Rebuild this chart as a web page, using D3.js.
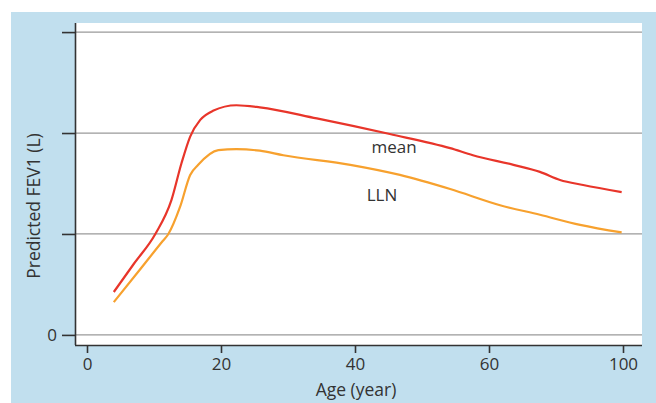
<!DOCTYPE html>
<html>
<head>
<meta charset="utf-8">
<script src="https://cdn.jsdelivr.net/npm/d3@7"></script>
<style>
  body { margin: 0; background: #fff; }
  svg { display: block; font-family: "Open Sans", "Noto Sans", sans-serif; }
</style>
</head>
<body>
<div id="chart"></div>
<script>
// Age (years) and predicted FEV1 (L)
const meanAge = [4, 7, 10.2, 12.6, 14.1, 15.4, 16.9, 18.8, 22.3, 25.8, 34.3, 45.2, 54.2, 57.6, 67.3, 75.2, 81.2, 88.1, 99.6];
const meanFev = [0.85, 1.41, 2.0, 2.67, 3.40, 3.93, 4.26, 4.44, 4.55, 4.51, 4.29, 3.98, 3.70, 3.56, 3.37, 3.23, 3.07, 2.97, 2.83];
const llnAge = [4, 8, 11.3, 12.1, 13.9, 15.4, 16.6, 19.6, 22.3, 25.8, 29.3, 39.3, 46.7, 54.2, 63.3, 75.2, 87.2, 99.6];
const llnFev = [0.65, 1.31, 1.86, 1.99, 2.54, 3.17, 3.37, 3.66, 3.68, 3.65, 3.56, 3.37, 3.17, 2.89, 2.57, 2.38, 2.18, 2.03];

const xTicks = [0, 20, 40, 60, 100];
const yTicks = [0, 2, 4, 6];
const yTickLabels = ['0', '', '', ''];

const W = 656, H = 403;
const svg = d3.select('#chart').append('svg').attr('width', W).attr('height', H);

// light blue frame
svg.append('rect').attr('x', 11).attr('y', 12).attr('width', W - 11).attr('height', H - 12).attr('fill', '#c1dfee');
// white plot panel
const pLeft = 75, pRight = 642, pTop = 23, pBottom = 345;
svg.append('rect').attr('x', pLeft).attr('y', pTop).attr('width', pRight - pLeft).attr('height', pBottom - pTop).attr('fill', '#fff');

// the original age axis is spaced evenly up to "100"
const x = d3.scaleLinear().domain([0, 60, 100]).range([87, 489, 623]);
const y = d3.scaleLinear().domain([-0.2, 6.18]).range([pBottom, pTop]);

// gridlines
svg.append('g').selectAll('line').data(yTicks).join('line')
  .attr('x1', pLeft).attr('x2', pRight)
  .attr('y1', d => y(d)).attr('y2', d => y(d))
  .attr('stroke', '#9a9a9a').attr('stroke-width', 1.2);

const line = d3.line().x(d => x(d[0])).y(d => y(d[1])).curve(d3.curveMonotoneX);

svg.append('path').datum(d3.zip(llnAge, llnFev)).attr('d', line)
  .attr('fill', 'none').attr('stroke', '#f7a12e').attr('stroke-width', 2.2);
svg.append('path').datum(d3.zip(meanAge, meanFev)).attr('d', line)
  .attr('fill', 'none').attr('stroke', '#e8352a').attr('stroke-width', 2.2);

// axes
const xAxis = svg.append('g').attr('transform', `translate(0,${pBottom})`)
  .call(d3.axisBottom(x).tickValues(xTicks).tickSize(8).tickPadding(5).tickFormat(d3.format('d')));
xAxis.select('.domain').attr('d', `M${pLeft},0.5H${pRight}`);
const yAxis = svg.append('g').attr('transform', `translate(${pLeft},0)`)
  .call(d3.axisLeft(y).tickValues(yTicks).tickSize(13).tickPadding(5).tickFormat((d, i) => yTickLabels[i]));
yAxis.select('.domain').attr('d', `M0.5,${pTop}V${pBottom}`);

svg.selectAll('.domain, .tick line').attr('stroke', '#333').attr('stroke-width', 1.6);
svg.selectAll('.tick text').attr('fill', '#333').attr('font-size', 17).attr('font-family', '"Open Sans", sans-serif');

// axis titles
svg.append('text').attr('x', 356).attr('y', 396).attr('text-anchor', 'middle')
  .attr('font-size', 17.5).attr('fill', '#333').text('Age (year)');
svg.append('text').attr('transform', 'translate(40,206) rotate(-90)').attr('text-anchor', 'middle')
  .attr('font-size', 17.5).attr('fill', '#333').text('Predicted FEV1 (L)');

// curve labels
svg.append('text').attr('x', 394).attr('y', 153).attr('text-anchor', 'middle')
  .attr('font-size', 17).attr('fill', '#333').text('mean');
svg.append('text').attr('x', 382).attr('y', 201).attr('text-anchor', 'middle')
  .attr('font-size', 17).attr('fill', '#333').text('LLN');
</script>
</body>
</html>
